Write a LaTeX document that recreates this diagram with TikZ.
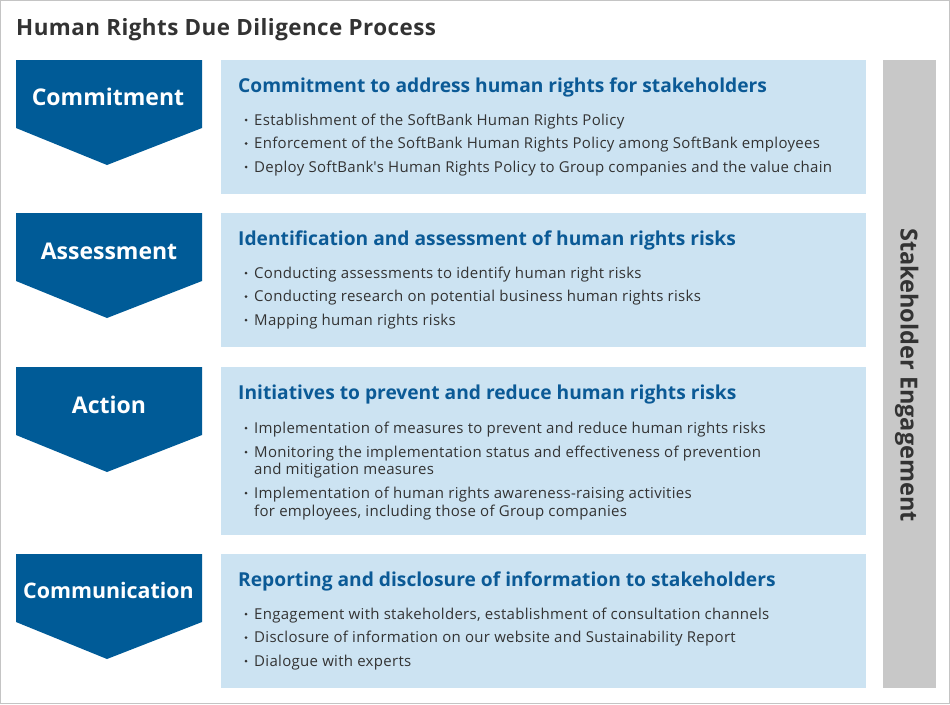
\documentclass[tikz,border=0pt]{standalone}
\usepackage{fontspec}
\setmainfont{Open Sans}
\definecolor{chev}{HTML}{005B97}
\definecolor{hblue}{HTML}{0B5A96}
\definecolor{lbox}{HTML}{CCE3F2}
\definecolor{gbar}{HTML}{C8C8C8}
\definecolor{dtext}{HTML}{333333}
\definecolor{framec}{HTML}{C4C4C4}
\tikzset{
 chevron/.style={fill=chev, draw=none},
 infobox/.style={fill=lbox, draw=none},
 chevlabel/.style={text=white, font=\fontsize{23}{23}\selectfont\bfseries, anchor=base, inner sep=0},
 heading/.style={text=hblue, font=\fontsize{19.2}{19}\selectfont\bfseries, anchor=base west, inner sep=0},
 item/.style={text=dtext, font=\fontsize{15}{18}\selectfont\addfontfeature{LetterSpace=2}, anchor=base west, inner sep=0},
 dot/.style={circle, fill=dtext, inner sep=0, minimum size=3pt},
 titletext/.style={text=dtext, font=\fontsize{22.4}{22}\selectfont\bfseries\addfontfeature{LetterSpace=2}, anchor=base west, inner sep=0},
 sidetext/.style={text=dtext, font=\fontsize{23.5}{23}\selectfont\bfseries, anchor=base, inner sep=0, rotate=-90},
}
\begin{document}
\begin{tikzpicture}[x=1pt,y=-1pt]
\useasboundingbox (0,0) rectangle (950,704);
\draw[framec, line width=1pt] (0.5,0.5) rectangle (949,703.5);
\node[titletext] (title) at (16,35.5) {Human Rights Due Diligence Process};

% chevrons
\foreach \t/\n in {60/c1,213/c2,367/c3,554/c4}{
  \fill[chevron] (16,\t) -- (202,\t) -- (202,\t+68) -- (107,\t+105) -- (16,\t+68) -- cycle;
}
\node[chevlabel] (l1) at (108,105) {Commitment};
\node[chevlabel] (l2) at (109,259) {Assessment};
\node[chevlabel] (l3) at (109,413) {Action};
\node[chevlabel, font=\fontsize{21.4}{21}\selectfont\bfseries] (l4) at (108.5,598) {Communication};

% boxes
\fill[infobox] (221,60) rectangle (866,194);
\fill[infobox] (221,213) rectangle (866,347);
\fill[infobox] (221,367) rectangle (866,535);
\fill[infobox] (221,554) rectangle (866,688);

% side bar
\fill[gbar] (883,60) rectangle (936,688);
\node[sidetext] (side) at (900.5,375) {Stakeholder Engagement};

% box 1
\node[heading] (h1) at (238,92) {Commitment to address human rights for stakeholders};
\node[dot] (d11) at (246,120) {}; \node[item] (i11) at (254,125) {Establishment of the SoftBank Human Rights Policy};
\node[dot] (d12) at (246,143.5) {}; \node[item] (i12) at (254,148.5) {Enforcement of the SoftBank Human Rights Policy among SoftBank employees};
\node[dot] (d13) at (246,167) {}; \node[item] (i13) at (254,172) {Deploy SoftBank\textquotesingle s Human Rights Policy to Group companies and the value chain};

% box 2
\node[heading] (h2) at (238,245) {Identification and assessment of human rights risks};
\node[dot] (d21) at (246,273) {}; \node[item] (i21) at (254,278) {Conducting assessments to identify human right risks};
\node[dot] (d22) at (246,296.5) {}; \node[item] (i22) at (254,301.5) {Conducting research on potential business human rights risks};
\node[dot] (d23) at (246,320) {}; \node[item] (i23) at (254,325) {Mapping human rights risks};

% box 3
\node[heading] (h3) at (238,399) {Initiatives to prevent and reduce human rights risks};
\node[dot] (d31) at (246,428) {}; \node[item] (i31) at (254,433) {Implementation of measures to prevent and reduce human rights risks};
\node[dot] (d32) at (246,452) {}; \node[item] (i32) at (254,457) {Monitoring the implementation status and effectiveness of prevention};
\node[item] (i32b) at (254,474.5) {and mitigation measures};
\node[dot] (d33) at (246,493) {}; \node[item] (i33) at (254,498) {Implementation of human rights awareness-raising activities};
\node[item] (i33b) at (254,516) {for employees, including those of Group companies};

% box 4
\node[heading] (h4) at (238,586) {Reporting and disclosure of information to stakeholders};
\node[dot] (d41) at (246,614) {}; \node[item] (i41) at (254,619) {Engagement with stakeholders, establishment of consultation channels};
\node[dot] (d42) at (246,637.5) {}; \node[item] (i42) at (254,642.5) {Disclosure of information on our website and Sustainability Report};
\node[dot] (d43) at (246,661) {}; \node[item] (i43) at (254,666) {Dialogue with experts};
\end{tikzpicture}
\end{document}
